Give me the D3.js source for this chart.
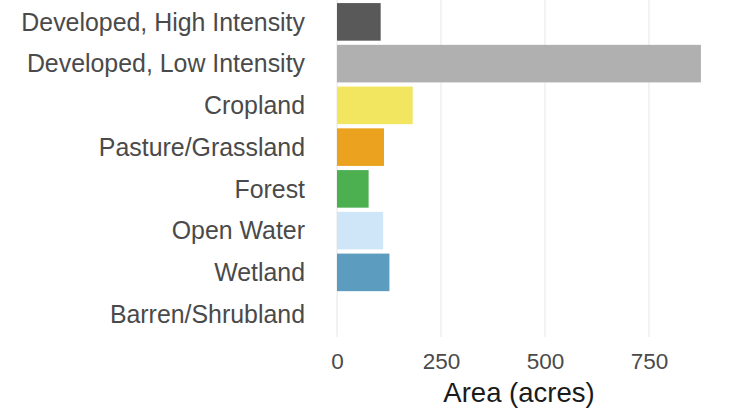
<!DOCTYPE html>
<html><head><meta charset="utf-8">
<script src="https://cdn.jsdelivr.net/npm/d3@7"></script>
<style>body{margin:0;background:#fff}svg{display:block}</style>
</head><body>
<svg id="chart" width="753" height="411"></svg>
<script>
const categories = ["Developed, High Intensity","Developed, Low Intensity","Cropland","Pasture/Grassland","Forest","Open Water","Wetland","Barren/Shrubland"];
const areas = [105, 875, 182, 113, 76, 111, 126, 1];
const colors = ["#595959","#b0b0b0","#f2e660","#eba21e","#4caf50","#cfe6f8","#5b9cbf","#e8e8e8"];
const xTicks = [0, 250, 500, 750];
const xTitle = "Area (acres)";

(function () {
const svg = d3.select("#chart");
const mLeft = 337, mRight = 703, mTop = 1, mBottom = 335;
const font = "Liberation Sans, Arial, sans-serif";
const x = d3.scaleLinear().domain([0, 880]).range([mLeft, mRight]);
const y = d3.scaleBand().domain(categories).range([mTop, mBottom]).paddingInner(0.1).paddingOuter(0.05);

// grid
svg.append("g").selectAll("line").data(xTicks).join("line")
  .attr("x1", d => x(d)).attr("x2", d => x(d))
  .attr("y1", 0).attr("y2", 337)
  .attr("stroke", "#ebebeb").attr("stroke-width", 1.2);

// bars
svg.append("g").selectAll("rect").data(categories).join("rect")
  .attr("x", x(0)).attr("y", d => y(d))
  .attr("width", (d, i) => x(areas[i]) - x(0))
  .attr("height", y.bandwidth())
  .attr("fill", (d, i) => colors[i]);

// y axis
const yAxis = svg.append("g").attr("transform", `translate(${mLeft - 32},0)`)
  .call(d3.axisLeft(y).tickSize(0).tickPadding(0));
yAxis.select(".domain").remove();
yAxis.selectAll("text").attr("font-family", font)
  .attr("font-size", 24.9).attr("fill", "#4a4a4a").attr("dy", "0.35em");

// x axis
const xAxis = svg.append("g").attr("transform", `translate(0,${mBottom})`)
  .call(d3.axisBottom(x).tickValues(xTicks).tickSize(0).tickPadding(18).tickFormat(d3.format("d")));
xAxis.select(".domain").remove();
xAxis.selectAll("text").attr("font-family", font)
  .attr("font-size", 22.5).attr("fill", "#4a4a4a");

svg.append("text").attr("x", 519).attr("y", 402)
  .attr("text-anchor", "middle").attr("font-family", font)
  .attr("font-size", 27.5).attr("fill", "#1a1a1a").text(xTitle);
})();
</script>
</body></html>
